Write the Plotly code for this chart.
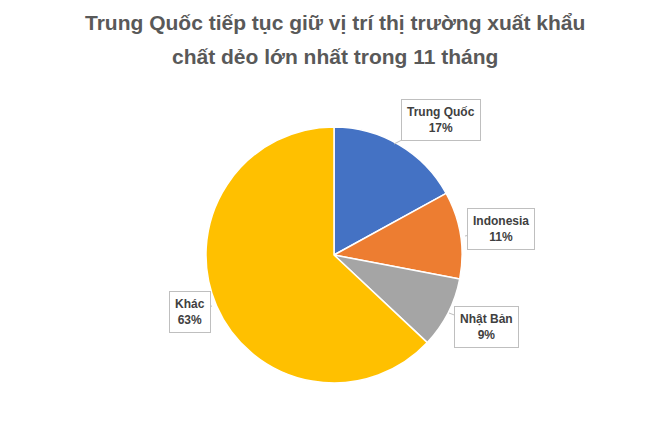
import plotly.graph_objects as go

# dados do grafico
thi_truong = ["Trung Quốc", "Indonesia", "Nhật Bản", "Khác"]
ty_trong = [17, 11, 9, 63]
mau = ["#4472C4", "#ED7D31", "#A5A5A5", "#FFC000"]

W, H = 670, 427
OFF = 8  # margem do body da pagina


def px(x, y):
    return (x - OFF) / W, 1 - (y - OFF) / H


fig = go.Figure()

x0, y1 = px(206, 127)
x1, y0 = px(462, 383)
fig.add_trace(go.Pie(
    labels=thi_truong,
    values=ty_trong,
    sort=False,
    direction="clockwise",
    rotation=0,
    marker=dict(colors=mau, line=dict(color="white", width=1.5)),
    textinfo="none",
    hoverinfo="label+percent",
    domain=dict(x=[x0, x1], y=[y0, y1]),
    showlegend=False,
))

# caixas dos rotulos (centro da caixa, ponta da seta) em pixels
caixas = [((441, 120), (394, 144)),
          ((501, 229), (465, 236)),
          ((486, 327), (449, 313)),
          ((190, 312), (212, 306))]

for nome, v, ((cx, cy), (tx, ty)) in zip(thi_truong, ty_trong, caixas):
    x, y = px(tx, ty)
    fig.add_annotation(
        x=x, y=y, xref="paper", yref="paper",
        ax=cx - tx, ay=cy - ty,
        text="<b>{0}</b><br><b>{1}%</b>".format(nome, v),
        showarrow=True, arrowhead=0, arrowwidth=1, arrowcolor="#BFBFBF",
        bordercolor="#BFBFBF", borderwidth=1, borderpad=5,
        bgcolor="white",
        font=dict(family="Liberation Sans", size=12, color="#404040"),
        align="center",
    )

titulo = ["Trung Quốc tiếp tục giữ vị trí thị trường xuất khẩu",
          "chất dẻo lớn nhất trong 11 tháng"]
for i, linha in enumerate(titulo):
    x, y = px(335, 22 + 34 * i)
    fig.add_annotation(
        x=x, y=y, xref="paper", yref="paper",
        text="<b>{0}</b>".format(linha), showarrow=False,
        xanchor="center", yanchor="middle",
        font=dict(family="Liberation Sans", size=21, color="#595959"),
    )

fig.update_layout(
    width=W, height=H,
    margin=dict(l=0, r=0, t=0, b=0),
    paper_bgcolor="white",
    plot_bgcolor="white",
)

fig.write_html("out.html")
